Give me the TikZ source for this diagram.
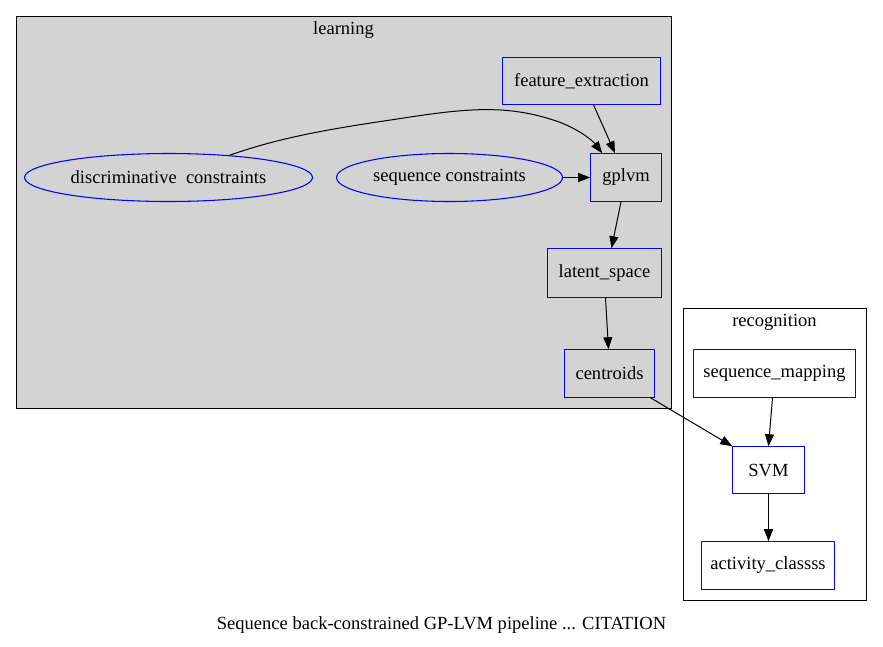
\documentclass[tikz,border=0pt]{standalone}
\usepackage{fontspec}
\setmainfont{Liberation Serif}
\usetikzlibrary{arrows.meta,shapes.geometric,calc}
\definecolor{clgray}{HTML}{D3D3D3}
\definecolor{nodeblue}{RGB}{0,0,255}
\begin{document}
\begin{tikzpicture}[x=0.75pt,y=-0.75pt,
  font=\fontsize{13.9pt}{16pt}\selectfont,
  box/.style={rectangle,inner sep=0pt,anchor=center},
  boxline/.style={draw=nodeblue,line width=0.8pt},
  ell/.style={draw=nodeblue,line width=0.8pt,ellipse,inner sep=0pt,anchor=center},
  cluster/.style={draw=black,line width=0.75pt},
  arr/.style={line width=0.75pt,-{Triangle[length=9pt,width=6.75pt]}}]
\useasboundingbox (-0.5,-0.5) rectangle (882.5,646.5);
\fill[white] (-0.5,-0.5) rectangle (882.5,646.5);
% clusters
\draw[cluster,fill=clgray] (16,16) rectangle (671,408);
\node (lbl1) at (343,30) {learning};
\draw[cluster] (683,308) rectangle (866,600);
\node (lbl2) at (774,322) {recognition};
% nodes
\node[box,minimum width=158*0.75pt,minimum height=47*0.75pt] (fe) at (581,80.5) {feature\char95 extraction};
\node[box,minimum width=71*0.75pt,minimum height=48*0.75pt] (gp) at (625.5,177) {gplvm};
\node[ell,minimum width=288*0.75pt,minimum height=48*0.75pt] (dc) at (168,177) {discriminative\ \ constraints};
\node[ell,minimum width=226*0.75pt,minimum height=48*0.75pt] (sc) at (449,177) {sequence constraints};
\node[box,minimum width=114*0.75pt,minimum height=49*0.75pt] (ls) at (604,272.5) {latent\char95 space};
\node[box,minimum width=90*0.75pt,minimum height=48*0.75pt] (ce) at (609,373) {centroids};
\node[box,minimum width=162*0.75pt,minimum height=48*0.75pt] (sm) at (774,373) {sequence\char95 mapping};
\node[box,minimum width=72*0.75pt,minimum height=47*0.75pt] (svm) at (768,469.5) {SVM};
\node[box,minimum width=133*0.75pt,minimum height=48*0.75pt] (ac) at (767.5,565) {activity\char95 classss};
\node (cap) at (441,625) {Sequence back-constrained GP-LVM pipeline ... CITATION};
% box borders
\foreach \n in {fe,gp,ls,ce,sm,svm,ac}
  \draw[boxline] (\n.south west) rectangle (\n.north east);
% edges
\draw[arr] ($(fe.south)+(12,0)$) -- ($(gp.north)+(-11,0)$);
\draw[arr] (dc.20) .. controls (285,135) and (340,127) .. (400,118)
  .. controls (470,107) and (510,104) .. (560,122)
  .. controls (580,130) and (592,140) .. ($(gp.north west)+(12,0)$);
\draw[arr] (sc.east) -- (gp.west);
\draw[arr] ($(gp.south)+(-5,0)$) -- ($(ls.north)+(7,0)$);
\draw[arr] ($(ls.south)+(1,0)$) -- ($(ce.north)+(-1,0)$);
\draw[arr] ($(ce.south)+(41,0)$) -- (svm.north west);
\draw[arr] ($(sm.south)+(-2,0)$) -- (svm.north);
\draw[arr] (svm.south) -- (svm.south |- ac.north);
\end{tikzpicture}
\end{document}
